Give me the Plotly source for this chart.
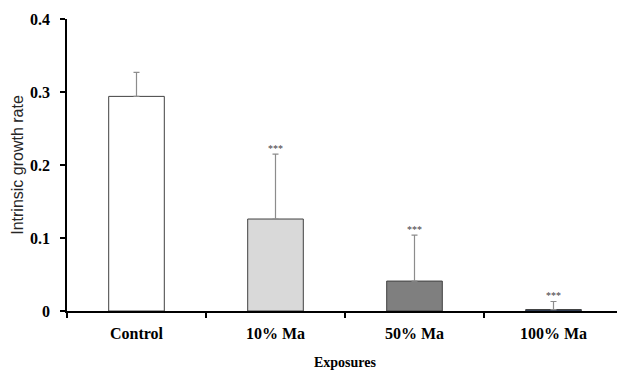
import plotly.graph_objects as go

categories = ["Control", "10% Ma", "50% Ma", "100% Ma"]
values = [0.294, 0.126, 0.041, 0.002]
errors = [0.033, 0.089, 0.063, 0.011]
stars = ["", "***", "***", "***"]
colors = ["#ffffff", "#d9d9d9", "#7f7f7f", "#1f3864"]
y_ticks = [0, 0.1, 0.2, 0.3, 0.4]
y_tick_labels = ["0", "0.1", "0.2", "0.3", "0.4"]

fig = go.Figure()
fig.add_trace(go.Bar(
    x=categories, y=values, width=0.4,
    marker=dict(color=colors, line=dict(color="#404040", width=1)),
    error_y=dict(type="data", array=errors, arrayminus=[0]*4, symmetric=False,
                 color="#8c8c8c", thickness=1.2, width=3),
    showlegend=False,
))
fig.add_trace(go.Scatter(
    x=categories, y=[v + e for v, e in zip(values, errors)],
    mode="text", text=stars, textposition="top center",
    textfont=dict(family="Liberation Serif", size=10, color="#404040"),
    showlegend=False, cliponaxis=False,
))
fig.update_layout(
    width=625, height=370,
    margin=dict(l=59, r=10, t=11, b=67),
    paper_bgcolor="white", plot_bgcolor="white",
    bargap=0.6,
)
fig.update_xaxes(
    automargin=False,
    showline=True, linecolor="black", linewidth=1.5,
    ticks="outside", tickson="boundaries", ticklen=5, tickcolor="black", tickwidth=1.5,
    ticklabelstandoff=7,
    tickfont=dict(family="Liberation Serif", size=16, color="black"),
    title=dict(text="<b>Exposures</b>", font=dict(family="Liberation Serif", size=14, color="black"), standoff=16),
    showgrid=False,
)
fig.update_xaxes(tickvals=categories, ticktext=["<b>%s</b>" % c for c in categories])
fig.update_yaxes(
    automargin=False,
    range=[0, 0.4], tickvals=y_ticks, ticktext=["<b>%s</b>" % t for t in y_tick_labels],
    showline=True, linecolor="black", linewidth=1.5,
    ticks="outside", ticklen=5, tickcolor="black", tickwidth=1.5,
    ticklabelstandoff=7,
    tickfont=dict(family="Liberation Serif", size=16, color="black"),
    title=dict(text="Intrinsic growth rate", font=dict(family="Liberation Sans", size=16, color="#262626"), standoff=2),
    showgrid=False, zeroline=False,
)
fig.write_html("out.html")
